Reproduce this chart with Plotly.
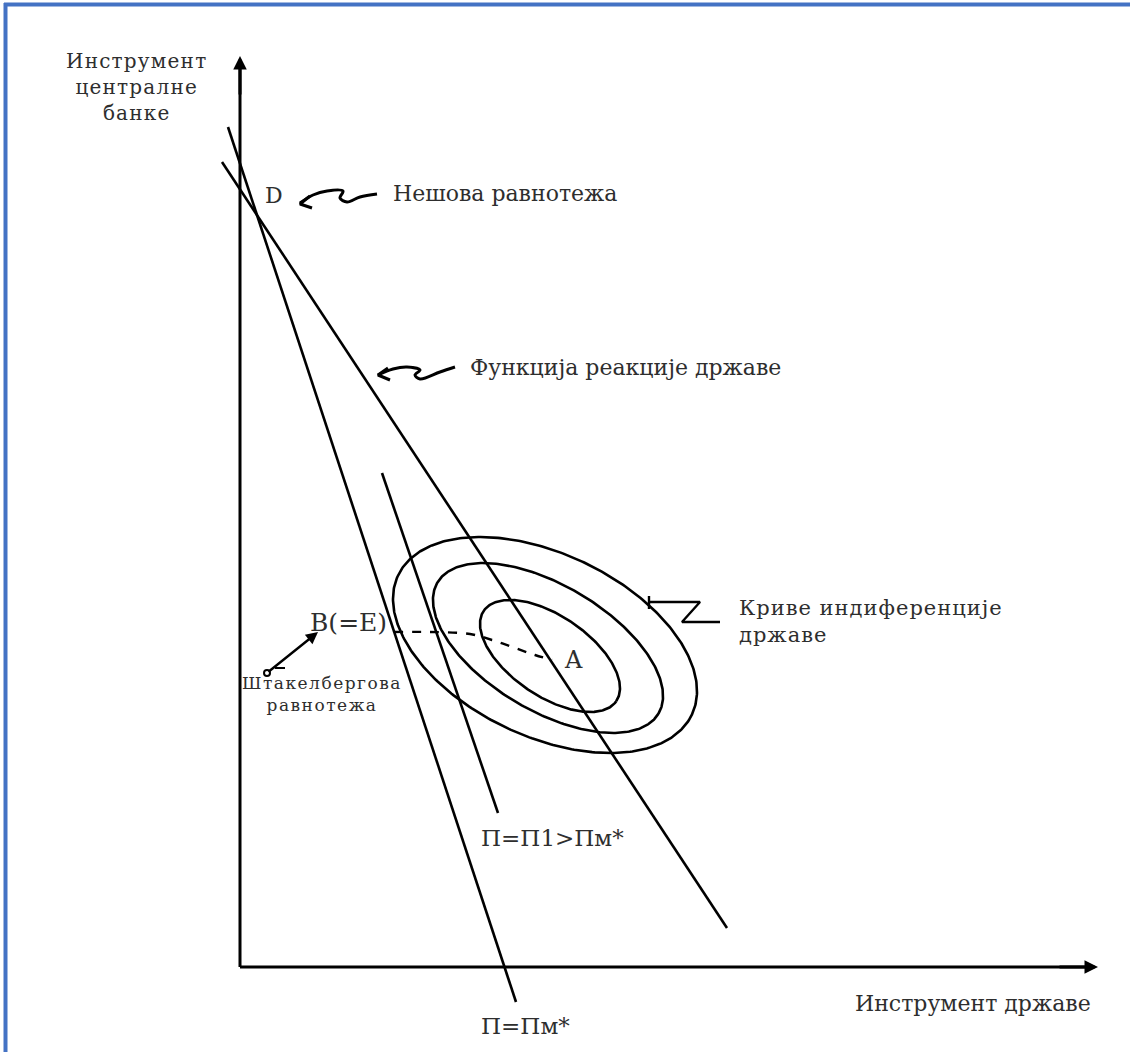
import numpy as np
import plotly.graph_objects as go

# ---- data (units: origin at the axes' intersection, y upwards) ----
axis_x_end = 858
axis_y_end = 911

# straight lines: П=Пм*, reaction function of the state, П=П1>Пм*
line_x0 = [-12, -18, 142]
line_y0 = [840, 805, 494]
line_x1 = [276, 487, 258]
line_y1 = [-35, 39, 154]

# indifference curves of the state (outer, middle, inner)
ell_cx = [305, 308, 310]
ell_cy = [322, 319, 311]
ell_a = [162.6, 128.5, 80.2]
ell_b = [91.3, 62.8, 40.1]
ell_angle = [-25.4, -30.7, -34.3]

# dashed path B(=E) -> A
path_x = [154, 190, 230, 252, 275, 295, 312]
path_y = [335, 335, 333, 327, 319, 312, 307]

# squiggly pointer to D (Nash equilibrium)
nash_x = [60, 73, 87, 103, 100, 107, 120, 137]
nash_y = [764, 772, 776, 776, 769, 765, 770, 773]
nash_head_x = [72, 60, 70]
nash_head_y = [759, 763, 771]

# squiggly pointer to the reaction function
react_x = [138, 153, 167, 180, 175, 180, 200, 215]
react_y = [592, 598, 600, 597, 592, 588, 595, 600]
react_head_x = [150, 138, 148]
react_head_y = [587, 592, 599]

# Z pointer to indifference curves
z_tick_x = [409, 409]
z_tick_y = [371, 358]
z_x = [410, 460, 442, 480]
z_y = [365, 365, 345, 345]

# Stackelberg pointer
stack_tail = (27, 294)
stack_head = (78, 335)
stack_tick_x = [35, 45]
stack_tick_y = [299, 299]

FONT = "DejaVu Serif"
TXT = "#2e2e2e"

fig = go.Figure()

def add_line(xs, ys, width=2.6, dash=None, shape="linear"):
    fig.add_trace(go.Scatter(x=xs, y=ys, mode="lines",
                             line=dict(color="black", width=width, dash=dash, shape=shape),
                             hoverinfo="skip", showlegend=False))

# axes
add_line([0, axis_x_end - 6], [0, 0], width=3)
add_line([0, 0], [0, axis_y_end - 6], width=3)

# straight lines
for x0, y0, x1, y1 in zip(line_x0, line_y0, line_x1, line_y1):
    add_line([x0, x1], [y0, y1])

# ellipses
t = np.linspace(0, 2 * np.pi, 361)
for cx, cy, a, b, ang in zip(ell_cx, ell_cy, ell_a, ell_b, ell_angle):
    th = np.deg2rad(ang)
    ex = cx + a * np.cos(t) * np.cos(th) - b * np.sin(t) * np.sin(th)
    ey = cy + a * np.cos(t) * np.sin(th) + b * np.sin(t) * np.cos(th)
    add_line(ex, ey)

# dashed path
add_line(path_x, path_y, width=2.4, dash="dash", shape="spline")

# squiggles
add_line(nash_x, nash_y, width=3, shape="spline")
add_line(nash_head_x, nash_head_y, width=3)
add_line(react_x, react_y, width=3, shape="spline")
add_line(react_head_x, react_head_y, width=3)
add_line(z_tick_x, z_tick_y, width=2.4)
add_line(z_x, z_y, width=2.4)
add_line(stack_tick_x, stack_tick_y, width=2)

# stackelberg tail circle
fig.add_trace(go.Scatter(x=[stack_tail[0]], y=[stack_tail[1]], mode="markers",
                         marker=dict(symbol="circle-open", size=6, color="black",
                                     line=dict(width=2)),
                         hoverinfo="skip", showlegend=False))

annotations = []
# axis arrow heads
annotations.append(dict(x=0, y=axis_y_end, ax=0, ay=axis_y_end - 40, xref="x", yref="y",
                        axref="x", ayref="y", showarrow=True, arrowhead=2, arrowsize=0.9,
                        arrowwidth=3, arrowcolor="black", text=""))
annotations.append(dict(x=axis_x_end, y=0, ax=axis_x_end - 40, ay=0, xref="x", yref="y",
                        axref="x", ayref="y", showarrow=True, arrowhead=2, arrowsize=0.9,
                        arrowwidth=3, arrowcolor="black", text=""))
annotations.append(dict(x=stack_head[0], y=stack_head[1], ax=stack_tail[0], ay=stack_tail[1],
                        xref="x", yref="y", axref="x", ayref="y", showarrow=True,
                        arrowhead=2, arrowsize=1, arrowwidth=2.4, arrowcolor="black", text=""))

def spaced(lines, ls):
    return "<br>".join(f"<span style='letter-spacing:{ls}px'>{s}</span>" for s in lines)

def label(x, y, text, size=22, xanchor="center", align="center"):
    annotations.append(dict(x=x, y=y, xref="x", yref="y", text=text, showarrow=False,
                            xanchor=xanchor, yanchor="middle", align=align,
                            font=dict(family=FONT, size=size, color=TXT)))

label(-104, 880, spaced(["Инструмент", "централне", "банке"], 1.2), size=20)
label(34, 772, "D", size=22)
label(151, 774, "Нешова равнотежа", size=22, xanchor="left")
label(228, 600, "Функција реакције државе", size=22, xanchor="left")
label(497, 346, spaced(["Криве индиференције", "државе"], 1.0), size=21, xanchor="left",
      align="left")
label(108, 345, "B(=E)", size=25)
label(333, 307, "A", size=24)
label(82, 273, spaced(["Штакелбергова", "равнотежа"], 1.5), size=17)
label(312, 129, "П=П1>Пм*", size=23)
label(285, -59, "П=Пм*", size=23)
label(733, -36, "Инструмент државе", size=22)

shapes = [
    dict(type="line", xref="paper", yref="paper", x0=0.0035, x1=1, y0=1 - 4.5 / 1052,
         y1=1 - 4.5 / 1052, line=dict(color="#4472C4", width=4)),
    dict(type="line", xref="paper", yref="paper", x0=5.5 / 1130, x1=5.5 / 1130, y0=0,
         y1=1 - 3 / 1052, line=dict(color="#4472C4", width=4)),
]

fig.update_layout(
    width=1130, height=1052, autosize=False,
    margin=dict(l=0, r=0, t=0, b=0),
    paper_bgcolor="white", plot_bgcolor="white",
    xaxis=dict(range=[-240, 890], visible=False, fixedrange=True),
    yaxis=dict(range=[-85, 967], visible=False, fixedrange=True),
    annotations=annotations, shapes=shapes, showlegend=False,
)

fig.write_html("out.html", config={"displayModeBar": False},
               post_script="document.body.style.margin='0';document.body.style.overflow='hidden';")
